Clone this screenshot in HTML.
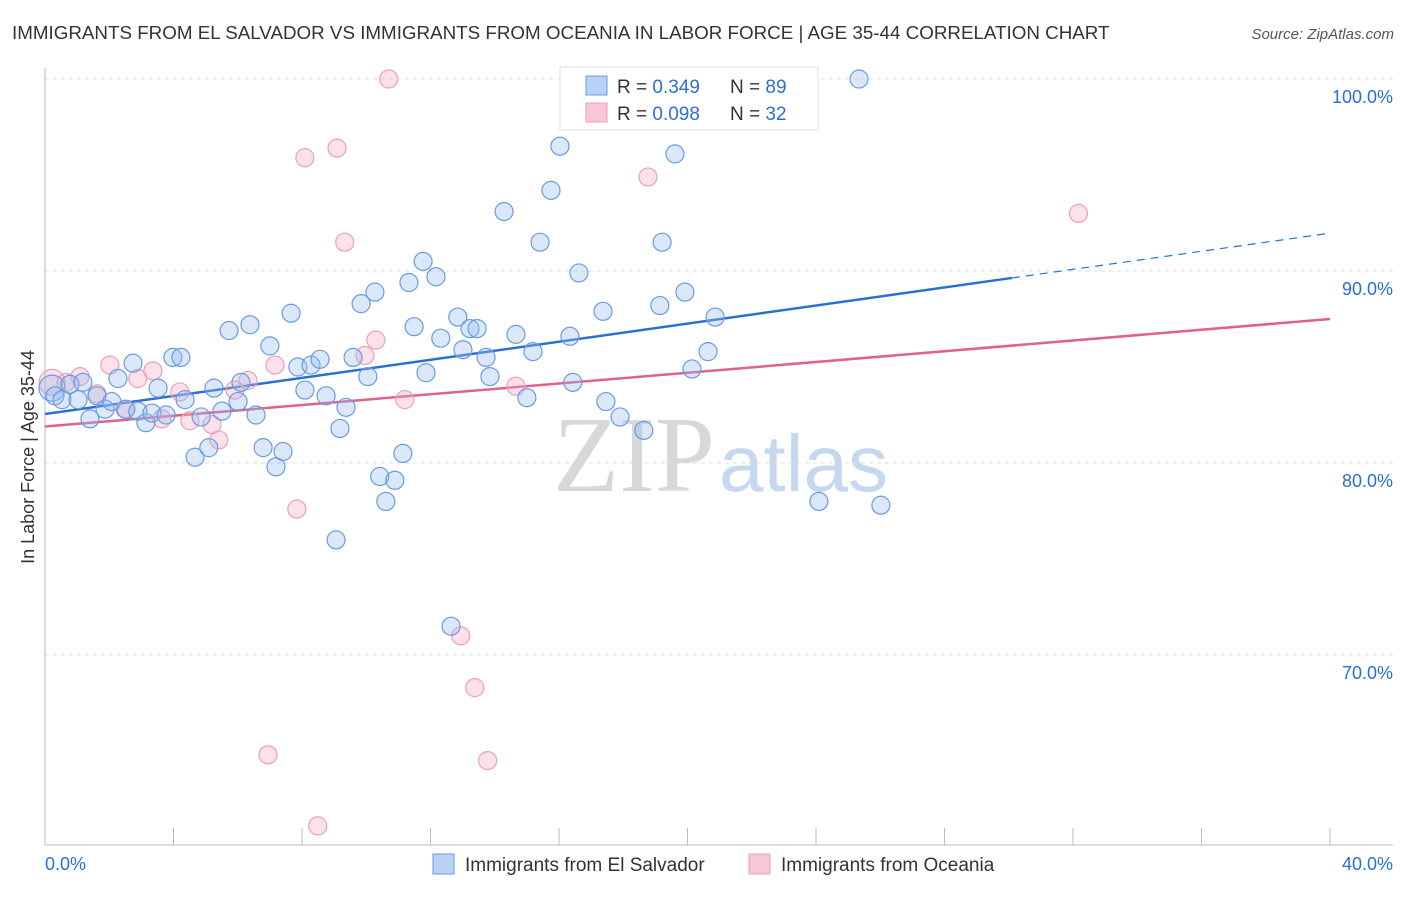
<!DOCTYPE html>
<html><head><meta charset="utf-8"><style>
body{margin:0;background:#fff;font-family:"Liberation Sans",sans-serif;}
</style></head><body>
<svg id="chart" width="1406" height="892" xmlns="http://www.w3.org/2000/svg">
<text x="12" y="39" font-size="18.8" fill="#333">IMMIGRANTS FROM EL SALVADOR VS IMMIGRANTS FROM OCEANIA IN LABOR FORCE | AGE 35-44 CORRELATION CHART</text>
<text x="1394" y="39" font-size="15" fill="#555" font-style="italic" text-anchor="end">Source: ZipAtlas.com</text>
<g><text x="553" y="491" font-size="108" font-family="Liberation Serif,serif" fill="#d8d8d8">ZIP</text><text x="719" y="491" font-size="80" fill="#c5d8f0">atlas</text></g>
<g id="grid"></g><g id="axes"></g><g id="lines"></g><g id="pts"></g>
<text transform="translate(34,457) rotate(-90)" font-size="18" fill="#333" text-anchor="middle">In Labor Force | Age 35-44</text>
<g>
<rect x="560" y="67" width="258" height="63" fill="#fff" stroke="#ddd"/>
<rect x="586" y="76" width="21" height="19" fill="#b8d2f5" stroke="#6a9be0"/>
<rect x="586" y="103" width="21" height="19" fill="#f8c6d5" stroke="#eaa0b8"/>
<text x="617" y="93" font-size="19" fill="#333">R = <tspan fill="#2a6fd6">0.349</tspan><tspan x="730">N = </tspan><tspan fill="#2a6fd6">89</tspan></text>
<text x="617" y="120" font-size="19" fill="#333">R = <tspan fill="#2a6fd6">0.098</tspan><tspan x="730">N = </tspan><tspan fill="#2a6fd6">32</tspan></text>
</g>
<g>
<rect x="433" y="854" width="21" height="20" fill="#b8d2f5" stroke="#6a9be0"/>
<text x="465" y="871" font-size="19" fill="#333">Immigrants from El Salvador</text>
<rect x="749" y="854" width="21" height="20" fill="#f8c6d5" stroke="#eaa0b8"/>
<text x="781" y="871" font-size="19" fill="#333">Immigrants from Oceania</text>
</g>
</svg>
<script>
const blueX=[0.22,0.31,0.53,0.78,1.03,1.18,1.40,1.62,1.87,2.08,2.27,2.52,2.74,2.89,3.14,3.33,3.52,3.77,3.98,4.23,4.36,4.67,4.86,5.10,5.26,5.51,5.73,6.01,6.10,6.38,6.57,6.79,7.00,7.19,7.41,7.66,7.87,8.09,8.28,8.56,8.75,9.06,9.18,9.37,9.59,9.84,10.05,10.27,10.42,10.61,10.89,11.14,11.33,11.49,11.77,11.86,12.17,12.32,12.64,12.85,13.01,13.23,13.45,13.73,13.85,14.29,14.66,15.00,15.19,15.41,15.75,16.03,16.34,16.43,16.62,17.37,17.46,17.90,18.64,19.14,19.21,19.61,19.92,20.14,20.64,20.86,24.09,25.34,26.02];
const blueY=[83.9,83.5,83.3,84.1,83.3,84.2,82.3,83.5,82.8,83.2,84.4,82.8,85.2,82.7,82.1,82.6,83.9,82.5,85.5,85.5,83.3,80.3,82.4,80.8,83.9,82.7,86.9,83.2,84.2,87.2,82.5,80.8,86.1,79.8,80.6,87.8,85.0,83.8,85.1,85.4,83.5,76.0,81.8,82.9,85.5,88.3,84.5,88.9,79.3,78.0,79.1,80.5,89.4,87.1,90.5,84.7,89.7,86.5,71.5,87.6,85.9,87.0,87.0,85.5,84.5,93.1,86.7,83.4,85.8,91.5,94.2,96.5,86.6,84.2,89.9,87.9,83.2,82.4,81.7,88.2,91.5,96.1,88.9,84.9,85.8,87.6,78.0,100.0,77.8];
const pinkX=[0.22,0.65,1.09,1.62,2.02,2.49,2.89,3.36,3.64,4.20,4.51,5.20,5.41,5.91,6.32,6.94,7.16,7.84,8.09,8.49,9.09,9.33,9.96,10.30,10.70,11.20,12.94,13.38,13.78,14.66,18.77,32.17];
const pinkY=[84.2,84.2,84.5,83.6,85.1,82.8,84.4,84.8,82.3,83.7,82.2,82.0,81.2,83.8,84.3,64.8,85.1,77.6,95.9,61.1,96.4,91.5,85.6,86.4,100.0,83.3,71.0,68.3,64.5,84.0,94.9,93.0];
const blueTrend=[82.55,0.2355]; // intercept, slope
const pinkTrend=[81.9,0.14];
const yTicks=[100,90,80,70];
const xTickLabels=["0.0%","40.0%"];
const NS="http://www.w3.org/2000/svg";
const sx=v=>45+v/40*1285, sy=v=>79+(100-v)*19.2;
function mk(tag,attrs,parent){const e=document.createElementNS(NS,tag);for(const k in attrs)e.setAttribute(k,attrs[k]);document.getElementById(parent).appendChild(e);return e;}
yTicks.forEach(t=>{
 const g=mk('line',{x1:45,x2:1393,y1:sy(t),y2:sy(t),stroke:'#ddd','stroke-dasharray':'4,4'},'grid');
 
 
 const l=mk('text',{x:1393,y:sy(t)+24,'font-size':18,fill:'#2a6fd6','text-anchor':'end'},'grid');
 l.textContent=t.toFixed(1)+'%';
 
 
});
const ax=mk('line',{x1:45,x2:1393,y1:845,y2:845,stroke:'#bbb'},'axes');


const ay=mk('line',{x1:45,x2:45,y1:68,y2:845,stroke:'#bbb'},'axes');


for(let i=0;i<=10;i++){const t=mk('line',{x1:sx(i*4),x2:sx(i*4),y1:828,y2:845,stroke:'#bbb'},'axes');
 
 }
[[0,'start',45],[1,'end',1393]].forEach(([i,a,x])=>{const t=mk('text',{x:x,y:870,'font-size':18,fill:'#2a6fd6','text-anchor':a},'axes');t.textContent=xTickLabels[i];
 
 });
function pts(X,Y,fill,stroke,name){X.forEach((x,i)=>{const c=mk('circle',{cx:sx(x),cy:sy(Y[i]),r:i==0?13:9,fill:fill,stroke:stroke,'stroke-width':1.2},'pts');
 
 });}
pts(pinkX,pinkY,'rgba(245,170,195,0.35)','#eaa0b8','point-oceania');
pts(blueX,blueY,'rgba(150,190,240,0.35)','#6a9be0','point-el-salvador');
const tb=(x)=>blueTrend[0]+blueTrend[1]*x, tp=(x)=>pinkTrend[0]+pinkTrend[1]*x;
const b1=mk('line',{x1:sx(0),y1:sy(tb(0)),x2:sx(30.1),y2:sy(tb(30.1)),stroke:'#2a6fd6','stroke-width':2.5},'lines');


const b2=mk('line',{x1:sx(30.1),y1:sy(tb(30.1)),x2:sx(40),y2:sy(tb(40)),stroke:'#2a6fd6','stroke-width':1.2,'stroke-dasharray':'8,6'},'lines');


const p1=mk('line',{x1:sx(0),y1:sy(tp(0)),x2:sx(40),y2:sy(tp(40)),stroke:'#e0608e','stroke-width':2.5},'lines');


</script>
</body></html>
